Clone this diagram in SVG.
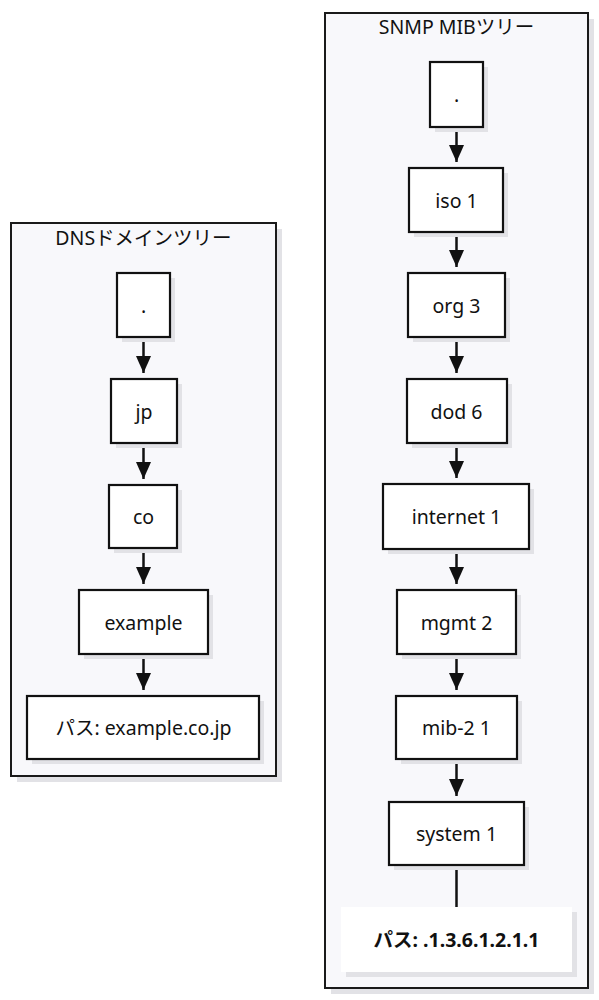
<svg xmlns="http://www.w3.org/2000/svg" width="599" height="1000" viewBox="0 0 599 1000">
<style>
.bg{fill:#ffffff}
.sh{fill:#e2e2e6}
.cl{fill:#f8f8fb;stroke:#1a1a1a;stroke-width:2}
.nd{fill:#ffffff;stroke:#111111;stroke-width:2.2}
.nb{fill:#ffffff;stroke:none}
.t{font-family:"Noto Sans","Noto Sans CJK JP",sans-serif;font-size:19.5px;fill:#111111;text-anchor:middle}
.b{font-weight:bold}
.ed{stroke:#111111;stroke-width:2.5;fill:none}
</style>
<defs>
<marker id="ah" viewBox="0 0 17 15" refX="17" refY="7.5" markerWidth="17" markerHeight="15" markerUnits="userSpaceOnUse" orient="auto">
<path d="M0,0 L17,7.5 L0,15 Z" fill="#111111"/>
</marker>
</defs>
<rect class="bg" x="0" y="0" width="599" height="1000"/>

<g id="cluster-dns">
<rect class="sh" x="17" y="229" width="265" height="553"/>
<rect class="cl" x="11" y="223" width="265" height="553"/>
<text class="t" x="143.5" y="245">DNSドメインツリー</text>
</g>
<g id="cluster-snmp">
<rect class="sh" x="331" y="19" width="263" height="975"/>
<rect class="cl" x="325" y="13" width="263" height="975"/>
<text class="t" x="456.5" y="34">SNMP MIBツリー</text>
</g>

<g id="connectors">
<line class="ed" x1="143.5" y1="337" x2="143.5" y2="373" marker-end="url(#ah)"/>
<line class="ed" x1="143.5" y1="443" x2="143.5" y2="479" marker-end="url(#ah)"/>
<line class="ed" x1="143.5" y1="548" x2="143.5" y2="584" marker-end="url(#ah)"/>
<line class="ed" x1="143.5" y1="654" x2="143.5" y2="690" marker-end="url(#ah)"/>
<line class="ed" x1="456.5" y1="127" x2="456.5" y2="162" marker-end="url(#ah)"/>
<line class="ed" x1="456.5" y1="232" x2="456.5" y2="267" marker-end="url(#ah)"/>
<line class="ed" x1="456.5" y1="337" x2="456.5" y2="373" marker-end="url(#ah)"/>
<line class="ed" x1="456.5" y1="443" x2="456.5" y2="478" marker-end="url(#ah)"/>
<line class="ed" x1="456.5" y1="549" x2="456.5" y2="584" marker-end="url(#ah)"/>
<line class="ed" x1="456.5" y1="654" x2="456.5" y2="690" marker-end="url(#ah)"/>
<line class="ed" x1="456.5" y1="759" x2="456.5" y2="796" marker-end="url(#ah)"/>
<line class="ed" x1="456.5" y1="865" x2="456.5" y2="907"/>
</g>

<g id="dns-root">
<rect class="sh" x="122" y="278" width="53" height="64"/>
<rect class="nd" x="117" y="273" width="53" height="64"/>
<text class="t" x="143.5" y="313">.</text>
</g>
<g id="dns-jp">
<rect class="sh" x="116" y="384" width="66" height="64"/>
<rect class="nd" x="111" y="379" width="66" height="64"/>
<text class="t" x="144" y="419">jp</text>
</g>
<g id="dns-co">
<rect class="sh" x="114" y="490" width="68" height="63"/>
<rect class="nd" x="109" y="485" width="68" height="63"/>
<text class="t" x="143.5" y="524">co</text>
</g>
<g id="dns-example">
<rect class="sh" x="84" y="595" width="129" height="64"/>
<rect class="nd" x="79" y="590" width="129" height="64"/>
<text class="t" x="143.5" y="630">example</text>
</g>
<g id="dns-path">
<rect class="sh" x="32" y="701" width="232" height="63"/>
<rect class="nd" x="27" y="696" width="232" height="63"/>
<text class="t" x="143.5" y="735">パス: example.co.jp</text>
</g>

<g id="mib-root">
<rect class="sh" x="435" y="67" width="53" height="65"/>
<rect class="nd" x="430" y="62" width="53" height="65"/>
<text class="t" x="456.5" y="102">.</text>
</g>
<g id="mib-iso">
<rect class="sh" x="414" y="173" width="94" height="64"/>
<rect class="nd" x="409" y="168" width="94" height="64"/>
<text class="t" x="456.5" y="208">iso 1</text>
</g>
<g id="mib-org">
<rect class="sh" x="413" y="278" width="97" height="64"/>
<rect class="nd" x="408" y="273" width="97" height="64"/>
<text class="t" x="456.5" y="313">org 3</text>
</g>
<g id="mib-dod">
<rect class="sh" x="412" y="384" width="100" height="64"/>
<rect class="nd" x="407" y="379" width="100" height="64"/>
<text class="t" x="456.5" y="419">dod 6</text>
</g>
<g id="mib-internet">
<rect class="sh" x="388" y="489" width="146" height="65"/>
<rect class="nd" x="383" y="484" width="146" height="65"/>
<text class="t" x="456.5" y="524">internet 1</text>
</g>
<g id="mib-mgmt">
<rect class="sh" x="402" y="595" width="119" height="64"/>
<rect class="nd" x="397" y="590" width="119" height="64"/>
<text class="t" x="456.5" y="630">mgmt 2</text>
</g>
<g id="mib-mib2">
<rect class="sh" x="401" y="701" width="121" height="63"/>
<rect class="nd" x="396" y="696" width="121" height="63"/>
<text class="t" x="456.5" y="735">mib-2 1</text>
</g>
<g id="mib-system">
<rect class="sh" x="394" y="807" width="135" height="63"/>
<rect class="nd" x="389" y="802" width="135" height="63"/>
<text class="t" x="456.5" y="841">system 1</text>
</g>
<g id="mib-path">
<rect class="sh" x="346" y="912" width="231" height="65"/>
<rect class="nb" x="341" y="907" width="231" height="65"/>
<text class="t b" x="456.5" y="947">パス: .1.3.6.1.2.1.1</text>
</g>
</svg>
